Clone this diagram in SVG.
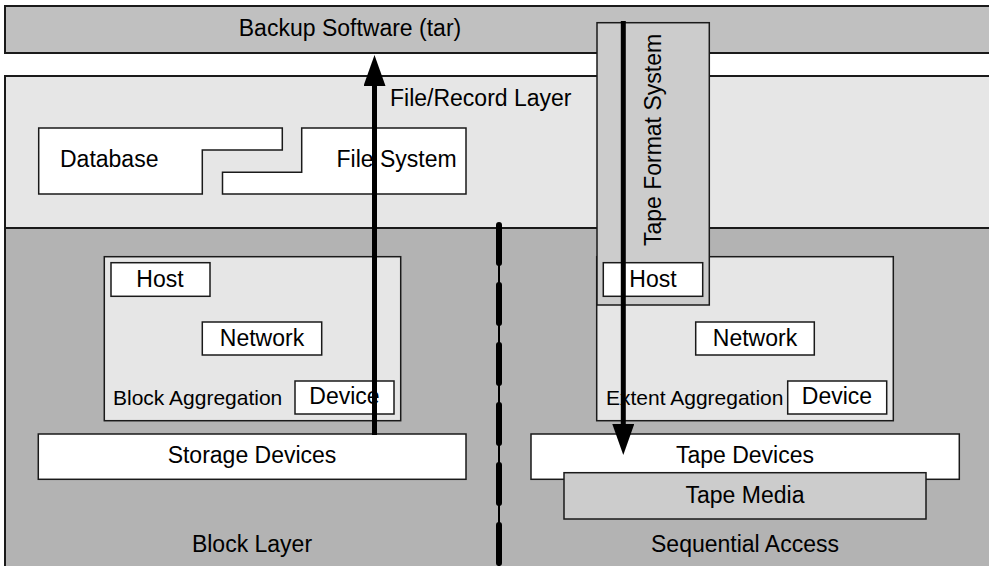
<svg xmlns="http://www.w3.org/2000/svg" width="989" height="566" viewBox="0 0 989 566">
<style>
text{font-family:"Liberation Sans",Arial,sans-serif;font-size:23px;fill:#000}
.mid{text-anchor:middle}
.box{stroke:#1a1a1a;stroke-width:1.5}
.layer{stroke:#1a1a1a;stroke-width:2}
.w{fill:#fff}
.lg{fill:#e6e6e6}
.mg{fill:#cccccc}
</style>
<defs>
<marker id="ah" viewBox="0 0 31 22" refX="0" refY="11" markerWidth="31" markerHeight="22" markerUnits="userSpaceOnUse" orient="auto">
<path d="M0,0 L31,11 L0,22 Z" fill="#000"/>
</marker>
</defs>
<g id="backup-software"><rect class="layer" x="5" y="6" width="1000" height="47" fill="#c0c0c0"/><text class="mid" x="350" y="36">Backup Software (tar)</text></g>
<g id="file-record-layer"><rect class="layer lg" x="5" y="76" width="1000" height="152"/><text x="390" y="106">File/Record Layer</text></g>
<g id="block-layer"><rect class="layer" x="5" y="228" width="1000" height="350" fill="#b3b3b3"/><text class="mid" x="252" y="552">Block Layer</text></g>
<g id="sequential-access"><text class="mid" x="745" y="552">Sequential Access</text></g>
<g id="database"><path class="box w" d="M38.7,128 H282.3 V150 H202.3 V194 H38.7 Z"/><text x="60" y="167">Database</text></g>
<g id="file-system"><path class="box w" d="M222.5,194 V172.3 H301.7 V128 H466 V194 Z"/><text x="336.5" y="167">File System</text></g>
<g id="block-aggregation"><rect class="box lg" x="104.3" y="256.7" width="296.4" height="164"/><text x="113" y="405" style="font-size:21px">Block Aggregation</text></g>
<g id="host-left"><rect class="box w" x="111" y="262.7" width="99" height="33.6"/><text class="mid" x="160" y="287">Host</text></g>
<g id="network-left"><rect class="box w" x="202.3" y="322" width="119.4" height="33"/><text class="mid" x="262" y="346">Network</text></g>
<g id="device-left"><rect class="box w" x="295" y="381" width="99" height="33"/><text class="mid" x="344.5" y="404">Device</text></g>
<g id="storage-devices"><rect class="box w" x="38.3" y="434" width="427.7" height="45.3"/><text class="mid" x="252" y="463">Storage Devices</text></g>
<g id="extent-aggregation"><rect class="box lg" x="596.7" y="256.7" width="296.6" height="164"/><text x="606" y="405" style="font-size:21px">Extent Aggregation</text></g>
<g id="network-right"><rect class="box w" x="695.7" y="322" width="118.6" height="33"/><text class="mid" x="755" y="346">Network</text></g>
<g id="device-right"><rect class="box w" x="787.7" y="381" width="99" height="33"/><text class="mid" x="837" y="404">Device</text></g>
<g id="tape-devices"><rect class="box w" x="531" y="434" width="428.3" height="45.3"/><text class="mid" x="745" y="463">Tape Devices</text></g>
<g id="tape-media"><rect class="box mg" x="564" y="472.7" width="362" height="46.3"/><text class="mid" x="745" y="503">Tape Media</text></g>
<g id="tape-format-system"><rect class="box mg" x="597" y="22.7" width="112.3" height="282.3"/><text class="mid" transform="translate(661,140) rotate(-90)">Tape Format System</text></g>
<g id="host-right"><rect class="box w" x="603.3" y="262.7" width="99.4" height="33.6"/><text class="mid" x="653" y="287">Host</text></g>
<g id="connectors">
<line x1="499" y1="226" x2="499" y2="566" stroke="#000" stroke-width="2"/>
<line x1="499" y1="225" x2="499" y2="566" stroke="#000" stroke-width="6" stroke-dasharray="38 22" stroke-linecap="round"/>
<line x1="374.5" y1="435" x2="374.5" y2="86" stroke="#000" stroke-width="5" marker-end="url(#ah)"/>
<line x1="623.3" y1="21" x2="623.3" y2="424" stroke="#000" stroke-width="5" marker-end="url(#ah)"/>
</g>
</svg>
